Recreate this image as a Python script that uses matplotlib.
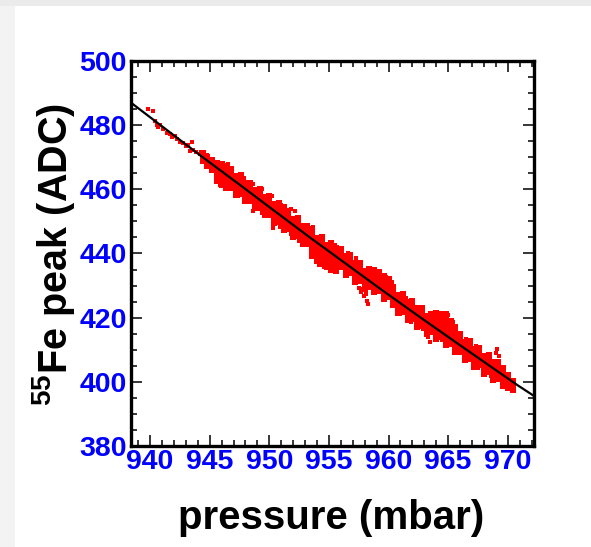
"""55Fe peak position versus gas pressure, ROOT-style scatter with fit line."""

import matplotlib

matplotlib.use("Agg")
import matplotlib.pyplot as plt
from matplotlib.patches import Rectangle
from matplotlib.ticker import MultipleLocator

plt.rcParams["font.family"] = ["Liberation Sans", "DejaVu Sans"]
plt.rcParams["mathtext.fontset"] = "custom"
plt.rcParams["mathtext.bf"] = "Liberation Sans:bold"
plt.rcParams["mathtext.default"] = "bf"

# fit curve (pressure in mbar, peak in ADC)
pressure_fit = [938.4, 944.2, 947.6, 950.1, 953.4, 956.8, 959.3, 962.7, 966.0, 970.8, 972.2]
peak_fit = [487.0, 470.6, 461.2, 454.2, 445.0, 435.8, 429.0, 420.0, 411.4, 399.0, 395.6]

# dense part of the measurement cloud, one column per pressure
column_pressure = [
    944.4, 944.8, 945.2, 945.6, 946.0, 946.4, 946.8, 947.2, 947.6, 948.0,
    948.4, 948.8, 949.2, 949.6, 950.0, 950.4, 950.8, 951.2, 951.6, 952.0,
    952.4, 952.8, 953.2, 953.6, 954.0, 954.4, 954.8, 955.2, 955.6, 956.0,
    956.4, 956.8, 957.2, 957.6, 958.0, 958.4, 958.8, 959.2, 959.6, 960.0,
    960.4, 960.8, 961.2, 961.6, 962.0, 962.4, 962.8, 963.2, 963.6, 964.0,
    964.4, 964.8, 965.2, 965.6, 966.0, 966.4, 966.8, 967.2, 967.6, 968.0,
    968.4, 968.8, 969.2, 969.6, 970.0, 970.4,
]
column_peaks = [
    [468.9, 470.1, 471.2], [467.4, 468.7, 470.0], [465.9, 467.2, 468.6],
    [462.6, 464.0, 465.4, 466.9, 468.3],
    [461.2, 462.6, 464.0, 465.4, 466.9, 468.0],
    [460.3, 461.7, 463.1, 464.5, 466.0, 467.4],
    [460.5, 462.0, 463.4, 464.8, 466.2],
    [458.3, 459.7, 461.1, 462.5, 464.0],
    [458.7, 460.1, 461.6, 463.0, 464.4],
    [456.4, 457.8, 459.2, 460.6, 462.0],
    [456.5, 457.9, 459.3, 460.7, 462.1],
    [454.1, 455.5, 456.9, 458.4, 459.8],
    [454.3, 455.7, 457.1, 458.6, 460.0],
    [451.9, 453.3, 454.8, 456.2, 457.6],
    [452.1, 453.5, 455.0, 456.4, 457.8],
    [449.6, 451.0, 452.5, 453.9, 455.3],
    [449.8, 451.3, 452.7, 454.1, 455.6],
    [447.4, 448.8, 450.3, 451.7, 453.1, 454.5],
    [447.7, 449.1, 450.5, 451.9, 453.4],
    [445.0, 446.4, 447.8, 449.3, 450.7],
    [445.5, 446.9, 448.3, 449.8, 451.1],
    [442.9, 444.3, 445.7, 447.2, 448.6],
    [442.9, 444.4, 445.8, 447.2, 448.5],
    [439.2, 440.6, 442.0, 443.5, 444.9, 446.3, 447.6],
    [437.8, 439.2, 440.6, 442.1, 443.5, 444.9],
    [436.6, 438.0, 439.5, 440.9, 442.3, 443.8, 445.2],
    [435.7, 437.1, 438.6, 440.0, 441.4, 442.8],
    [435.0, 436.4, 437.8, 439.3, 440.7, 442.1, 443.4],
    [434.6, 436.0, 437.4, 438.9, 440.3, 441.7],
    [435.7, 437.1, 438.6, 440.0, 441.4],
    [433.4, 434.8, 436.2, 437.7, 439.1],
    [433.8, 435.2, 436.7, 438.1, 439.4],
    [431.2, 432.6, 434.0, 435.5, 436.9],
    [431.4, 432.8, 434.3, 435.7, 437.0],
    [429.0, 430.4, 431.8, 433.3, 434.7],
    [429.5, 430.9, 432.4, 433.8, 435.1],
    [427.9, 429.3, 430.7, 432.2, 433.6, 435.0],
    [428.4, 429.8, 431.3, 432.7, 434.1],
    [425.8, 427.2, 428.6, 430.1, 431.5, 432.9],
    [426.3, 427.7, 429.2, 430.6, 432.0],
    [423.8, 425.2, 426.6, 428.1, 429.5],
    [421.5, 422.9, 424.3, 425.8, 427.2],
    [421.7, 423.1, 424.6, 426.0, 427.4],
    [419.3, 420.7, 422.1, 423.6, 425.0],
    [419.5, 420.9, 422.4, 423.8, 425.2],
    [417.2, 418.6, 420.0, 421.5, 422.9],
    [417.4, 418.8, 420.3, 421.7, 423.1],
    [414.9, 416.3, 417.7, 419.2, 420.6],
    [415.5, 416.9, 418.4, 419.8, 421.2],
    [413.3, 414.7, 416.1, 417.6, 419.0, 420.4, 421.6],
    [413.9, 415.3, 416.8, 418.2, 419.6, 421.0],
    [411.5, 412.9, 414.3, 415.8, 417.2, 418.6, 420.0, 421.2],
    [411.8, 413.2, 414.7, 416.1, 417.5, 418.9],
    [409.2, 410.6, 412.0, 413.5, 414.9, 416.3, 417.2],
    [409.3, 410.7, 412.2, 413.6, 414.8],
    [406.8, 408.2, 409.6, 411.1, 412.5],
    [407.2, 408.6, 410.1, 411.5, 412.6],
    [404.6, 406.0, 407.4, 408.9, 410.3],
    [405.1, 406.5, 408.0, 409.4, 410.5],
    [402.5, 403.9, 405.3, 406.8, 408.2],
    [403.0, 404.4, 405.9, 407.3, 408.3],
    [400.6, 402.0, 403.4, 404.9, 406.3],
    [400.9, 402.3, 403.7, 405.1, 406.3],
    [398.7, 400.1, 401.5, 402.9, 404.2],
    [398.0, 399.4, 400.8, 402.1],
    [397.6, 398.9, 400.2],
]

# sparse points, cloud edges and outliers
edge_pressure = [
    939.83, 940.25, 940.42, 940.59, 940.67, 940.84, 941.09, 941.43, 941.68, 941.85,
    942.10, 942.27, 942.52, 942.77, 943.02, 943.19, 943.52, 943.36, 943.61, 943.86,
    944.19, 944.45, 944.61, 944.78, 944.87, 945.03, 945.20, 944.3, 945.3, 944.9,
    945.9, 945.7, 946.5, 946.3, 946.9, 947.9, 948.6, 949.4, 950.2, 951.0,
    951.8, 947.4, 948.2, 948.67, 949.4, 950.3, 950.9, 951.8, 952.5, 952.16,
    953.67, 953.9, 954.6, 955.1, 954.2, 954.4, 955.5, 956.6, 957.3, 956.5,
    957.5, 957.7, 957.9, 958.1, 958.2, 958.3, 957.8, 958.0, 959.0, 959.8,
    960.3, 960.6, 961.0, 961.5, 962.6, 961.9, 962.9, 963.49, 963.3, 964.2,
    964.7, 965.0, 965.4, 964.5, 965.5, 966.5, 967.3, 966.6, 967.5, 969.1,
    969.3, 969.2, 969.0, 968.6, 969.9, 970.5, 970.2,
]
edge_peak = [
    484.9, 484.3, 481.2, 480.2, 479.3, 479.9, 478.7, 477.7, 477.1, 476.2,
    476.5, 475.6, 474.6, 474.3, 473.4, 473.7, 474.6, 471.8, 472.4, 471.5,
    470.9, 469.9, 469.3, 470.6, 468.4, 468.7, 469.3, 471.6, 469.3, 467.4,
    461.3, 462.3, 467.8, 467.6, 466.7, 463.6, 461.6, 460.0, 457.9, 455.1,
    454.0, 457.8, 456.0, 453.2, 452.6, 448.1, 448.4, 446.0, 443.9, 453.1,
    448.4, 437.6, 435.9, 434.8, 436.5, 445.6, 442.6, 440.2, 438.6, 433.5,
    429.4, 428.0, 426.6, 427.5, 425.2, 424.3, 429.0, 428.6, 434.3, 432.6,
    431.0, 423.5, 421.2, 426.1, 423.4, 418.6, 416.5, 412.3, 413.9, 420.4,
    421.2, 420.9, 418.6, 412.9, 409.9, 413.3, 411.2, 406.9, 404.2, 410.2,
    408.0, 406.5, 409.0, 401.7, 398.3, 397.9, 398.8,
]

core_x = [p for p, ys in zip(column_pressure, column_peaks) for _ in ys]
core_y = [y for ys in column_peaks for y in ys]

W, H = 591, 547
fig = plt.figure(figsize=(W / 100, H / 100), dpi=100, facecolor="#ebebeb")
fig.patches.append(Rectangle((0, 0), 15 / W, (H - 6) / H, transform=fig.transFigure,
                             facecolor="#f3f3f3", edgecolor="none", zorder=-10))
fig.patches.append(Rectangle((15 / W, 0), 1, (H - 6) / H, transform=fig.transFigure,
                             facecolor="white", edgecolor="none", zorder=-10))

ax = fig.add_axes([131 / W, 101 / H, 403 / W, 385 / H])
ax.plot(core_x, core_y, "s", color="red", ms=4.3, mew=0)
ax.plot(edge_pressure, edge_peak, "s", color="red", ms=2.6, mew=0)
ax.plot(pressure_fit, peak_fit, color="black", lw=1.6)

ax.set_xlim(938.4, 972.2)
ax.set_ylim(380, 500)
ax.xaxis.set_major_locator(MultipleLocator(5))
ax.xaxis.set_minor_locator(MultipleLocator(1))
ax.yaxis.set_major_locator(MultipleLocator(20))
ax.yaxis.set_minor_locator(MultipleLocator(5))
ax.tick_params(which="both", direction="in", top=True, right=True, width=1.1, color="black")
ax.tick_params(which="major", length=8)
ax.tick_params(which="minor", length=4)
ax.tick_params(axis="x", which="major", pad=2)
ax.tick_params(axis="y", which="major", pad=3)
for lab in ax.get_xticklabels() + ax.get_yticklabels():
    lab.set_color("#0000ff")
    lab.set_fontweight("bold")
    lab.set_fontsize(20.5)
for sp in ax.spines.values():
    sp.set_linewidth(2.4)

fig.text(331 / W, (H - 518) / H, "pressure (mbar)", fontsize=29, fontweight="bold",
         ha="center", va="center")
fig.text(54 / W, (H - 254) / H, r"$^{55}$Fe peak (ADC)", fontsize=28.5, fontweight="bold",
         rotation=90, ha="center", va="center")

fig.savefig("out.png", dpi=100, facecolor=fig.get_facecolor())
